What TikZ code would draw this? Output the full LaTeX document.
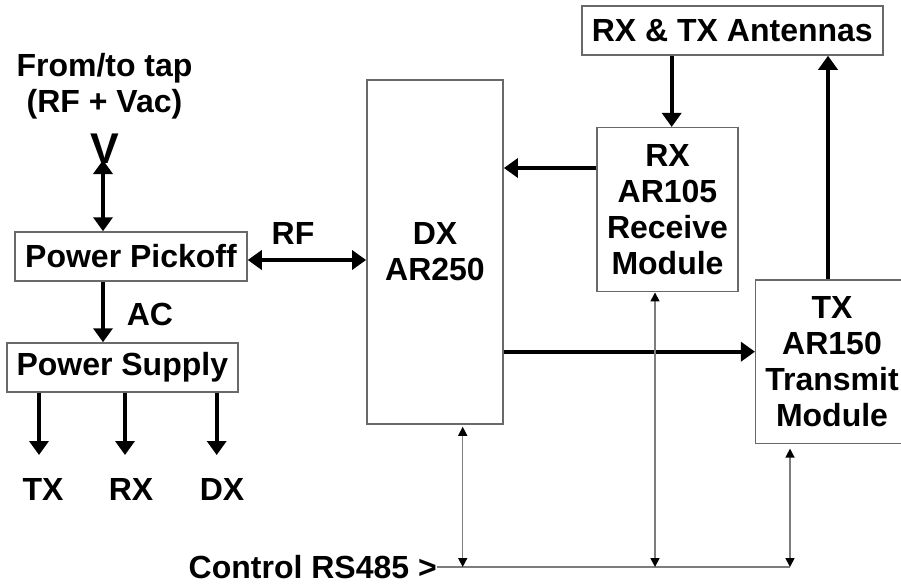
\documentclass[tikz,border=0pt]{standalone}
\usepackage{fontspec}
\setmainfont{Liberation Sans}
\usetikzlibrary{arrows.meta}
\definecolor{boxgray}{RGB}{105,105,105}
\definecolor{linegray}{RGB}{125,125,125}
\begin{document}
\begin{tikzpicture}[x=1pt,y=-1pt,
  every node/.style={font=\fontsize{32}{36}\selectfont\bfseries, inner sep=0pt},
  blk/.style={draw=boxgray, line width=1.5pt, align=center, fill=white},
  bigarrow/.style={line width=4pt, -{Triangle[length=14pt,width=19pt]}},
  bigboth/.style={line width=4pt, {Triangle[length=14pt,width=19pt]}-{Triangle[length=14pt,width=19pt]}},
  busline/.style={draw=linegray, line width=1.5pt},
  thinboth/.style={draw=linegray, line width=1.5pt, {Triangle[length=9pt,width=9pt,color=black]}-{Triangle[length=9pt,width=9pt,color=black]}}
]
\useasboundingbox (0,0) rectangle (901,584);

% boxes
\node[blk, minimum width=232pt, minimum height=49pt] (pick) at (131,256.5) {Power Pickoff};
\node[blk, minimum width=231pt, minimum height=49pt] (supply) at (122.3,367.5) {Power Supply};
\node[blk, minimum width=136.3pt, minimum height=344pt] (dx) at (435,252) {DX\\AR250};
\node[blk, minimum width=141pt, minimum height=164pt] (rx) at (667.5,209.7) {RX\\AR105\\Receive\\Module};
\node[blk, minimum width=152.6pt, minimum height=163.3pt] (tx) at (832,361.7) {TX\\AR150\\Transmit\\Module};
\node[blk, minimum width=301pt, minimum height=49pt] (ant) at (732.3,30.5) {RX \& TX Antennas};

% free texts
\node[anchor=base] (tap1) at (104.5,76) {From/to tap};
\node[anchor=base] (tap2) at (104.5,112) {(RF + Vac)};
\node[anchor=base, font=\fontsize{43}{43}\selectfont\bfseries] (vsym) at (105,163) {V};
\node (rf) at (293,233) {RF};
\node (ac) at (150,314) {AC};
\node (otx) at (43,489) {TX};
\node (orx) at (131,489) {RX};
\node (odx) at (222,489) {DX};
\node[anchor=base east] (ctl) at (437,578) {Control RS485 >};

% helper coordinates
\coordinate (vtip) at (103,160);
\coordinate (rfy) at (0,260);
\coordinate (acx) at (103,0);
\coordinate (etx) at (39,455);
\coordinate (erx) at (125,455);
\coordinate (edx) at (216.7,455);
\coordinate (arx) at (671.7,0);
\coordinate (atx) at (828,0);
\coordinate (ry) at (0,168);
\coordinate (ty) at (0,351.7);
\coordinate (busy) at (0,567);
\coordinate (c1) at (462.7,567);
\coordinate (c2) at (655,567);
\coordinate (c3) at (790,567);

% thick connectors
\draw[bigboth] (vtip) -- (vtip |- pick.north);
\draw[bigboth] (pick.east |- rfy) -- (dx.west |- rfy);
\draw[bigarrow] (pick.south -| acx) -- (supply.north -| acx);
\draw[bigarrow] (supply.south -| etx) -- (etx);
\draw[bigarrow] (supply.south -| erx) -- (erx);
\draw[bigarrow] (supply.south -| edx) -- (edx);
\draw[bigarrow] (ant.south -| arx) -- (rx.north -| arx);
\draw[bigarrow] (tx.north -| atx) -- (ant.south -| atx);
\draw[bigarrow] (rx.west |- ry) -- (dx.east |- ry);
\draw[bigarrow] (dx.east |- ty) -- (tx.west |- ty);

% control bus
\draw[busline] (ctl.east |- busy) -- (c3);
\draw[thinboth] ([yshift=-2pt]dx.south -| c1) -- (c1);
\draw[thinboth] (rx.south -| c2) -- (c2);
\draw[thinboth] ([yshift=-4.5pt]tx.south -| c3) -- (c3);
\end{tikzpicture}
\end{document}
